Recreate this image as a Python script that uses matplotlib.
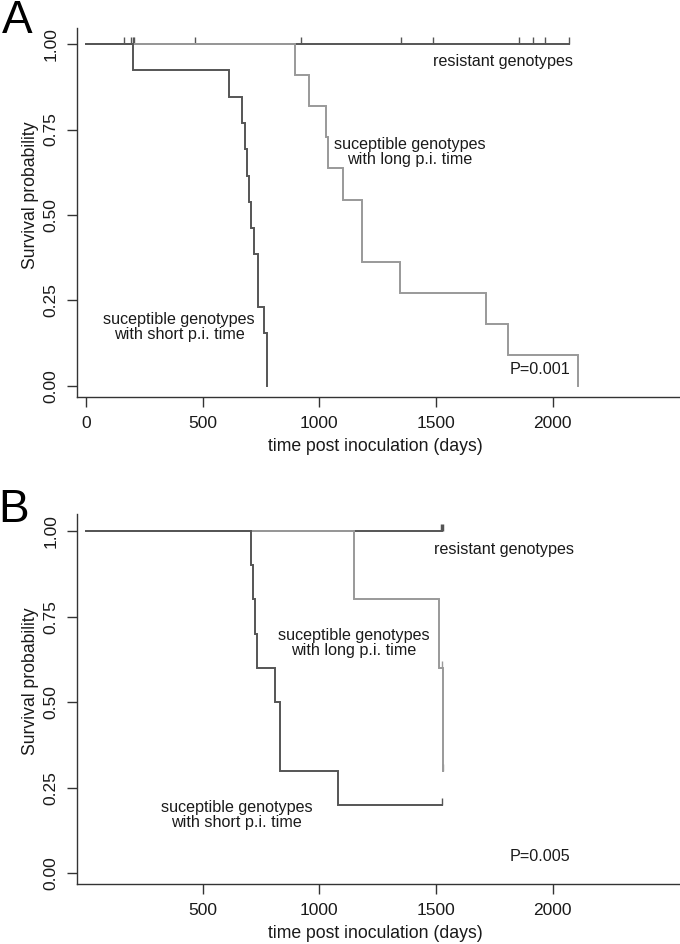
import matplotlib
matplotlib.use('Agg')
import matplotlib.pyplot as plt

plt.rcParams['font.family'] = ['Liberation Sans', 'DejaVu Sans']

# panel A: Kaplan-Meier steps (time in days, survival after the step)
a_short_t = [203, 611, 669, 680, 689, 697, 706, 721, 735, 738, 763, 776]
a_short_s = [0.923, 0.846, 0.769, 0.692, 0.615, 0.538, 0.462, 0.385, 0.308, 0.231, 0.154, 0.0]
a_long_t = [896, 957, 1027, 1036, 1101, 1183, 1346, 1713, 1807, 2110]
a_long_s = [0.909, 0.818, 0.727, 0.636, 0.545, 0.364, 0.273, 0.182, 0.091, 0.0]
a_res_end = 2069
a_res_censor = [163, 193, 200, 207, 468, 921, 1349, 1489, 1855, 1916, 1966, 2069]

# panel B
b_short_t = [707, 714, 724, 733, 811, 831, 1081]
b_short_s = [0.9, 0.8, 0.7, 0.6, 0.5, 0.3, 0.2]
b_short_end = 1524
b_long_t = [1149, 1514, 1531]
b_long_s = [0.8, 0.6, 0.3]
b_long_censor_t = [1527, 1531]
b_long_censor_s = [0.6, 0.3]
b_res_end = 1527

dark = '#555555'
light = '#999999'
axcol = '#333333'


def km(ax, times, surv, end, color):
    xs = [0]
    ys = [1.0]
    for t, s in zip(times, surv):
        xs.append(t)
        ys.append(s)
    if end is not None and end > xs[-1]:
        xs.append(end)
        ys.append(ys[-1])
    ax.step(xs, ys, where='post', color=color, lw=1.4, solid_joinstyle='miter')


def censor(ax, times, levels, color, lw=1.0):
    for t, s in zip(times, levels):
        ax.plot([t, t], [s, s + 0.02], color=color, lw=lw, solid_capstyle='butt')


W, H = 680, 944
fig = plt.figure(figsize=(6.8, 9.44), dpi=100)


def make_axes(top_px, bottom_px, ylim, xticks):
    left_px = 76.7
    ax = fig.add_axes([left_px / W, 1 - bottom_px / H, (W - left_px) / W,
                       (bottom_px - top_px) / H])
    ax.set_xlim(-40, 2546)
    ax.set_ylim(*ylim)
    for s in ['top', 'right']:
        ax.spines[s].set_visible(False)
    for s in ['left', 'bottom']:
        ax.spines[s].set_color(axcol)
        ax.spines[s].set_linewidth(1.0)
    ax.set_xticks(xticks)
    ax.set_xticklabels([str(v) for v in xticks])
    yt = [0, 0.25, 0.5, 0.75, 1.0]
    ax.set_yticks(yt)
    ax.set_yticklabels(['%.2f' % v for v in yt], rotation=90, va='center')
    ax.tick_params(axis='both', length=7, width=1.0, color=axcol,
                   labelsize=12.5, labelcolor='#1a1a1a')
    ax.tick_params(axis='x', pad=7)
    ax.tick_params(axis='y', pad=6)
    ax.set_xlabel('time post inoculation (days)', fontsize=12.7, color='#1a1a1a', va='center')
    ax.set_ylabel('Survival probability', fontsize=12.7, color='#1a1a1a', va='center')
    h = bottom_px - top_px
    ax.xaxis.set_label_coords(0.4945, -50 / h)
    ax.yaxis.set_label_coords((30 - left_px) / (W - left_px), (bottom_px - (top_px + 167)) / h)
    return ax


txt = dict(fontsize=11.6, color='#1a1a1a', ha='center', va='center', linespacing=1.0)

# ---- panel A
axA = make_axes(28, 396.7, (-0.0313, 1.0468), [0, 500, 1000, 1500, 2000])
km(axA, [], [], a_res_end, dark)
censor(axA, a_res_censor, [1.0] * len(a_res_censor), dark)
km(axA, a_long_t, a_long_s, None, light)
km(axA, a_short_t, a_short_s, None, dark)
axA.text(1787, 0.948, 'resistant genotypes', **txt)
axA.text(1389, 0.684, 'suceptible genotypes\nwith long p.i. time', **txt)
axA.text(399, 0.172, 'suceptible genotypes\nwith short p.i. time', **txt)
axA.text(1944, 0.047, 'P=0.001', **txt)

# ---- panel B
axB = make_axes(514.3, 884, (-0.0313, 1.0488), [500, 1000, 1500, 2000])
km(axB, [], [], b_res_end, dark)
censor(axB, [b_res_end], [1.0], dark, lw=2.5)
km(axB, b_long_t, b_long_s, None, light)
censor(axB, b_long_censor_t, b_long_censor_s, light)
km(axB, b_short_t, b_short_s, b_short_end, dark)
censor(axB, [b_short_end], [b_short_s[-1]], dark)
axB.text(1791, 0.947, 'resistant genotypes', **txt)
axB.text(1146, 0.672, 'suceptible genotypes\nwith long p.i. time', **txt)
axB.text(646, 0.171, 'suceptible genotypes\nwith short p.i. time', **txt)
axB.text(1946, 0.049, 'P=0.005', **txt)

# panel letters, baseline placed at the bottom of the capitals
fig.text(17 / W, 1 - 33 / H, 'A', fontsize=33, ha='center', va='baseline')
fig.text(14 / W, 1 - 521.7 / H, 'B', fontsize=33, ha='center', va='baseline')

fig.savefig('out.png', dpi=100)
